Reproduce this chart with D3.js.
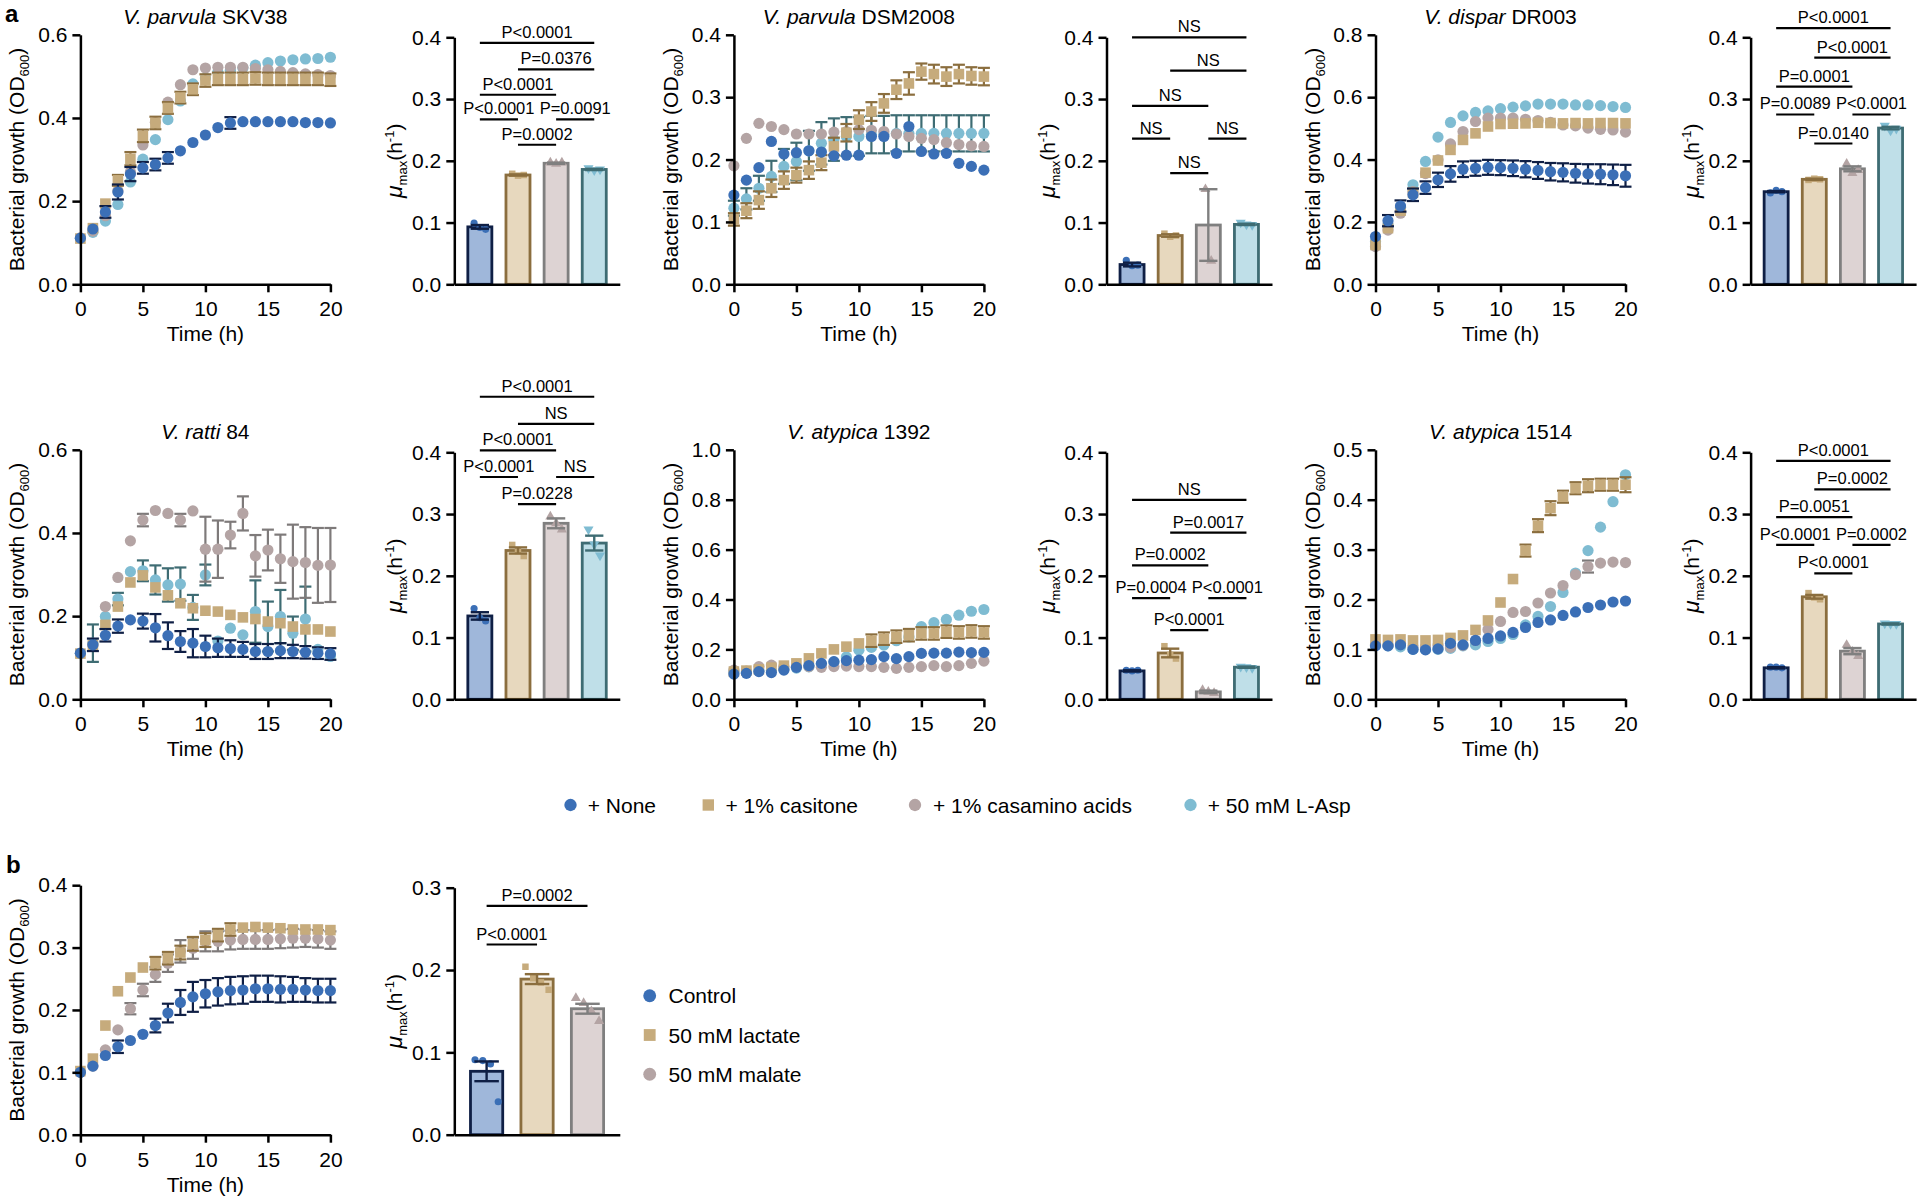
<!DOCTYPE html>
<html><head><meta charset="utf-8">
<script src="https://cdn.jsdelivr.net/npm/d3@7"></script>
<style>
body{margin:0;background:#fff;}
svg{display:block;}
</style></head><body>
<svg id="fig" width="1920" height="1202"></svg>
<script>
// ---------------- DATA ----------------
const hours=[0,1,2,3,4,5,6,7,8,9,10,11,12,13,14,15,16,17,18,19,20];
const xTicks=[0,5,10,15,20];
const conditions=["+ None","+ 1% casitone","+ 1% casamino acids","+ 50 mM L-Asp"];
const conditionsB=["Control","50 mM lactate","50 mM malate"];

const titleSKV38=["V. parvula"," SKV38"];
const titleDSM=["V. parvula"," DSM2008"];
const titleDR=["V. dispar"," DR003"];
const titleRatti=["V. ratti"," 84"];
const title1392=["V. atypica"," 1392"];
const title1514=["V. atypica"," 1514"];

const yTicksSKV38=[0,0.2,0.4,0.6];
const yTicksDSM=[0,0.1,0.2,0.3,0.4];
const yTicksDR=[0,0.2,0.4,0.6,0.8];
const yTicksRatti=[0,0.2,0.4,0.6];
const yTicks1392=[0,0.2,0.4,0.6,0.8,1.0];
const yTicks1514=[0,0.1,0.2,0.3,0.4,0.5];
const yTicksGrowthB=[0,0.1,0.2,0.3,0.4];
const yTicksMu=[0,0.1,0.2,0.3,0.4];
const yTicksMuB=[0,0.1,0.2,0.3];

// V. parvula SKV38
const skvNone=[0.111,0.133,0.174,0.222,0.265,0.280,0.288,0.304,0.321,0.341,0.359,0.377,0.388,0.391,0.391,0.391,0.391,0.391,0.389,0.389,0.388];
const skvNoneSem=[0.013,0.012,0.014,0.018,0.017,0.014,0.014,0.014,0.005,0.005,0.005,0.005,0.014,0.004,0.004,0.004,0.004,0.004,0.004,0.004,0.004];
const skvCas=[0.110,0.135,0.194,0.250,0.302,0.357,0.388,0.424,0.449,0.469,0.490,0.494,0.494,0.494,0.495,0.494,0.494,0.494,0.494,0.494,0.492];
const skvCasSem=[0.005,0.006,0.010,0.013,0.016,0.015,0.015,0.014,0.014,0.014,0.015,0.015,0.015,0.015,0.015,0.015,0.015,0.015,0.015,0.015,0.015];
const skvCam=[0.112,0.128,0.165,0.225,0.270,0.335,0.390,0.438,0.480,0.516,0.520,0.522,0.522,0.522,0.519,0.516,0.512,0.509,0.506,0.504,0.502];
const skvCamSem=[0.004,0.004,0.004,0.004,0.004,0.004,0.004,0.004,0.004,0.004,0.004,0.004,0.004,0.004,0.004,0.004,0.004,0.004,0.004,0.004,0.004];
const skvAsp=[0.110,0.125,0.152,0.192,0.246,0.301,0.348,0.396,0.441,0.482,0.496,0.510,0.515,0.520,0.527,0.533,0.537,0.540,0.542,0.543,0.546];
const skvAspSem=[0.004,0.004,0.004,0.004,0.004,0.004,0.004,0.004,0.004,0.004,0.004,0.004,0.004,0.004,0.004,0.004,0.004,0.004,0.004,0.004,0.004];

// V. parvula DSM2008
const dsmNone=[0.143,0.167,0.187,0.229,0.209,0.211,0.214,0.212,0.206,0.207,0.207,0.237,0.237,0.210,0.253,0.213,0.209,0.210,0.194,0.189,0.183];
const dsmNoneSem=[0.004,0.004,0.004,0.004,0.004,0.004,0.004,0.004,0.004,0.004,0.004,0.004,0.004,0.004,0.004,0.004,0.004,0.004,0.004,0.004,0.004];
const dsmCas=[0.104,0.118,0.135,0.154,0.167,0.175,0.183,0.195,0.221,0.243,0.264,0.277,0.290,0.312,0.322,0.341,0.337,0.333,0.337,0.334,0.333];
const dsmCasSem=[0.010,0.012,0.014,0.014,0.014,0.012,0.014,0.012,0.014,0.014,0.015,0.015,0.015,0.015,0.018,0.013,0.015,0.015,0.015,0.014,0.014];
const dsmCam=[0.190,0.234,0.258,0.253,0.248,0.241,0.241,0.241,0.244,0.245,0.248,0.247,0.245,0.241,0.237,0.234,0.232,0.227,0.224,0.222,0.221];
const dsmCamSem=[0.003,0.003,0.003,0.003,0.003,0.003,0.003,0.003,0.003,0.003,0.003,0.003,0.003,0.003,0.003,0.003,0.003,0.003,0.003,0.003,0.003];
const dsmAsp=[0.122,0.137,0.154,0.173,0.189,0.197,0.214,0.226,0.232,0.237,0.237,0.240,0.240,0.242,0.242,0.242,0.242,0.242,0.242,0.242,0.242];
const dsmAspSem=[0.012,0.017,0.020,0.025,0.028,0.030,0.032,0.034,0.034,0.031,0.031,0.030,0.030,0.029,0.029,0.029,0.029,0.029,0.029,0.029,0.029];

// V. dispar DR003
const drNone=[0.153,0.204,0.251,0.287,0.310,0.335,0.354,0.369,0.372,0.375,0.374,0.372,0.369,0.365,0.361,0.359,0.356,0.354,0.353,0.351,0.348];
const drNoneSem=[0.006,0.018,0.018,0.020,0.020,0.023,0.025,0.025,0.024,0.024,0.024,0.025,0.026,0.027,0.028,0.029,0.030,0.031,0.032,0.033,0.035];
const drCas=[0.126,0.180,0.236,0.294,0.358,0.397,0.431,0.463,0.484,0.506,0.514,0.515,0.516,0.518,0.517,0.516,0.517,0.516,0.517,0.517,0.516];
const drCasSem=[0.006,0.006,0.006,0.006,0.006,0.006,0.006,0.006,0.006,0.006,0.006,0.006,0.006,0.006,0.006,0.006,0.006,0.006,0.006,0.006,0.006];
const drCam=[0.121,0.174,0.228,0.297,0.355,0.399,0.450,0.490,0.522,0.533,0.533,0.533,0.529,0.525,0.519,0.511,0.508,0.501,0.497,0.495,0.488];
const drCamSem=[0.005,0.005,0.005,0.005,0.005,0.005,0.005,0.005,0.005,0.005,0.005,0.005,0.005,0.005,0.005,0.005,0.005,0.005,0.005,0.005,0.005];
const drAsp=[0.137,0.190,0.247,0.319,0.394,0.472,0.519,0.540,0.551,0.556,0.563,0.568,0.572,0.578,0.578,0.578,0.575,0.575,0.573,0.570,0.567];
const drAspSem=[0.005,0.005,0.005,0.005,0.005,0.005,0.005,0.005,0.005,0.005,0.005,0.005,0.005,0.005,0.005,0.005,0.005,0.005,0.005,0.005,0.005];

// V. ratti 84
const ratNone=[0.111,0.131,0.154,0.176,0.191,0.188,0.172,0.153,0.139,0.135,0.127,0.124,0.122,0.120,0.115,0.115,0.117,0.115,0.113,0.111,0.109];
const ratNoneSem=[0.012,0.015,0.015,0.016,0.012,0.018,0.033,0.032,0.025,0.034,0.026,0.022,0.020,0.018,0.018,0.018,0.018,0.016,0.015,0.014,0.014];
const ratCas=[0.110,0.130,0.179,0.223,0.281,0.298,0.269,0.250,0.231,0.219,0.213,0.211,0.203,0.197,0.193,0.187,0.183,0.175,0.168,0.168,0.163];
const ratCasSem=[0.004,0.004,0.005,0.006,0.008,0.010,0.006,0.005,0.005,0.005,0.004,0.004,0.004,0.004,0.004,0.004,0.004,0.004,0.004,0.004,0.004];
const ratCam=[0.110,0.130,0.223,0.293,0.381,0.431,0.454,0.447,0.431,0.453,0.361,0.361,0.395,0.447,0.345,0.359,0.338,0.331,0.329,0.322,0.323];
const ratCamSem=[0.004,0.004,0.005,0.010,0.005,0.015,0.006,0.012,0.015,0.010,0.078,0.069,0.032,0.041,0.050,0.049,0.058,0.089,0.085,0.090,0.089];
const ratAsp=[0.110,0.135,0.199,0.241,0.307,0.309,0.287,0.275,0.277,0.221,0.299,0.140,0.171,0.155,0.211,0.175,0.199,0.159,0.193,0.120,0.103];
const ratAspSem=[0.004,0.045,0.008,0.015,0.010,0.025,0.035,0.040,0.040,0.030,0.025,0.010,0.010,0.010,0.075,0.060,0.064,0.040,0.078,0.010,0.005];

// V. atypica 1392
const a92None=[0.101,0.104,0.111,0.107,0.117,0.128,0.135,0.144,0.151,0.155,0.157,0.159,0.171,0.163,0.171,0.184,0.185,0.185,0.189,0.187,0.188];
const a92NoneSem=[0.003,0.003,0.003,0.003,0.003,0.003,0.003,0.003,0.003,0.003,0.003,0.003,0.003,0.003,0.003,0.003,0.003,0.003,0.003,0.003,0.003];
const a92Cas=[0.111,0.115,0.120,0.127,0.135,0.144,0.164,0.184,0.200,0.211,0.224,0.235,0.243,0.251,0.257,0.264,0.264,0.271,0.268,0.272,0.268];
const a92CasSem=[0.004,0.004,0.004,0.004,0.004,0.004,0.005,0.005,0.005,0.006,0.008,0.025,0.025,0.025,0.025,0.025,0.025,0.025,0.025,0.025,0.025];
const a92Cam=[0.117,0.113,0.131,0.137,0.131,0.131,0.131,0.128,0.131,0.133,0.131,0.131,0.128,0.124,0.128,0.131,0.135,0.131,0.135,0.144,0.153];
const a92CamSem=[0.003,0.003,0.003,0.003,0.003,0.003,0.003,0.003,0.003,0.003,0.003,0.003,0.003,0.003,0.003,0.003,0.003,0.003,0.003,0.003,0.003];
const a92Asp=[0.110,0.108,0.115,0.115,0.120,0.125,0.130,0.140,0.150,0.170,0.197,0.208,0.217,0.235,0.250,0.291,0.307,0.320,0.337,0.353,0.360];
const a92AspSem=[0.003,0.003,0.003,0.003,0.003,0.003,0.003,0.003,0.003,0.003,0.003,0.003,0.003,0.003,0.003,0.003,0.003,0.003,0.003,0.003,0.003];

// V. atypica 1514
const a14None=[0.107,0.107,0.109,0.100,0.099,0.101,0.112,0.109,0.118,0.122,0.127,0.134,0.144,0.154,0.159,0.168,0.175,0.184,0.189,0.195,0.197];
const a14NoneSem=[0.003,0.003,0.003,0.003,0.003,0.003,0.003,0.003,0.003,0.003,0.003,0.003,0.003,0.003,0.003,0.003,0.003,0.003,0.003,0.003,0.003];
const a14Cas=[0.120,0.119,0.120,0.118,0.118,0.119,0.123,0.128,0.139,0.158,0.194,0.241,0.298,0.348,0.383,0.406,0.423,0.428,0.430,0.430,0.430];
const a14CasSem=[0.003,0.003,0.003,0.003,0.003,0.003,0.003,0.004,0.004,0.004,0.005,0.008,0.012,0.013,0.014,0.012,0.012,0.013,0.012,0.012,0.015];
const a14Cam=[0.110,0.108,0.112,0.105,0.105,0.108,0.104,0.108,0.118,0.140,0.156,0.174,0.176,0.193,0.213,0.228,0.250,0.266,0.273,0.275,0.274];
const a14CamSem=[0.003,0.003,0.003,0.003,0.003,0.003,0.003,0.003,0.003,0.003,0.003,0.003,0.003,0.003,0.003,0.003,0.003,0.012,0.003,0.003,0.003];
const a14Asp=[0.108,0.107,0.105,0.100,0.100,0.100,0.102,0.107,0.109,0.116,0.122,0.130,0.149,0.166,0.186,0.214,0.253,0.298,0.345,0.396,0.450];
const a14AspSem=[0.003,0.003,0.003,0.003,0.003,0.003,0.003,0.003,0.003,0.003,0.003,0.003,0.003,0.003,0.003,0.003,0.003,0.003,0.003,0.003,0.003];

// panel b growth
const bControl=[0.100,0.110,0.127,0.141,0.151,0.161,0.175,0.195,0.212,0.221,0.226,0.229,0.231,0.232,0.234,0.234,0.233,0.233,0.232,0.231,0.231];
const bControlSem=[0.003,0.003,0.004,0.010,0.004,0.004,0.011,0.015,0.020,0.024,0.022,0.022,0.022,0.022,0.021,0.021,0.021,0.020,0.019,0.019,0.019];
const bLactate=[0.102,0.122,0.175,0.230,0.252,0.268,0.275,0.283,0.292,0.306,0.312,0.320,0.329,0.332,0.333,0.332,0.331,0.329,0.329,0.329,0.328];
const bLactateSem=[0.002,0.003,0.003,0.003,0.003,0.004,0.010,0.010,0.011,0.011,0.011,0.010,0.010,0.004,0.004,0.004,0.004,0.004,0.004,0.004,0.004];
const bMalate=[0.100,0.110,0.136,0.168,0.202,0.232,0.257,0.275,0.294,0.299,0.310,0.310,0.312,0.313,0.313,0.313,0.314,0.315,0.315,0.314,0.312];
const bMalateSem=[0.002,0.002,0.003,0.004,0.009,0.010,0.012,0.014,0.018,0.017,0.016,0.016,0.015,0.015,0.015,0.015,0.015,0.015,0.014,0.014,0.014];

// mu max bar data (mean, SEM, replicate points)
const muSKV38=[0.093,0.177,0.196,0.186];
const muSKV38Sem=[0.003,0.001,0.001,0.001];
const muSKV38Pts=[[0.099,0.092,0.089],[0.179,0.176,0.177],[0.197,0.195,0.197],[0.188,0.185,0.186]];
const muDSM=[0.032,0.079,0.096,0.097];
const muDSMSem=[0.003,0.002,0.058,0.001];
const muDSMPts=[[0.039,0.030,0.031],[0.082,0.077,0.079],[0.154,0.038],[0.100,0.097,0.096]];
const muDR=[0.150,0.170,0.187,0.253];
const muDRSem=[0.001,0.001,0.004,0.002];
const muDRPts=[[0.148,0.152,0.150],[0.169,0.171,0.170],[0.195,0.180,0.185],[0.257,0.249,0.252]];
const muRatti=[0.135,0.241,0.285,0.253];
const muRattiSem=[0.006,0.005,0.008,0.012];
const muRattiPts=[[0.147,0.132,0.127],[0.250,0.240,0.232],[0.296,0.285,0.275],[0.275,0.251,0.233]];
const mu1392=[0.046,0.075,0.012,0.052];
const mu1392Sem=[0.001,0.007,0.002,0.001];
const mu1392Pts=[[0.047,0.046,0.047],[0.086,0.072,0.066],[0.015,0.012,0.010],[0.053,0.052,0.051]];
const mu1514=[0.051,0.166,0.078,0.122];
const mu1514Sem=[0.001,0.003,0.005,0.001];
const mu1514Pts=[[0.052,0.052,0.051],[0.172,0.165,0.162],[0.088,0.077,0.070],[0.123,0.122,0.122]];
const muB=[0.077,0.189,0.153];
const muBSem=[0.012,0.006,0.006];
const muBPts=[[0.091,0.090,0.086,0.040],[0.204,0.190,0.185,0.176],[0.166,0.160,0.150,0.138]];

// significance brackets: [from, to, level (h^-1), label]
const sigSKV38=[[0,3,0.391,"P<0.0001"],[1,3,0.348,"P=0.0376"],[0,2,0.307,"P<0.0001"],[0,1,0.267,"P<0.0001"],[2,3,0.267,"P=0.0091"],[1,2,0.226,"P=0.0002"]];
const sigDSM=[[0,3,0.400,"NS"],[1,3,0.346,"NS"],[0,2,0.289,"NS"],[0,1,0.236,"NS"],[2,3,0.236,"NS"],[1,2,0.180,"NS"]];
const sigDR=[[0,3,0.415,"P<0.0001"],[1,3,0.367,"P<0.0001"],[0,2,0.320,"P=0.0001"],[0,1,0.275,"P=0.0089"],[2,3,0.275,"P<0.0001"],[1,2,0.228,"P=0.0140"]];
const sigRatti=[[0,3,0.490,"P<0.0001"],[1,3,0.446,"NS"],[0,2,0.403,"P<0.0001"],[0,1,0.360,"P<0.0001"],[2,3,0.360,"NS"],[1,2,0.316,"P=0.0228"]];
const sig1392=[[0,3,0.323,"NS"],[1,3,0.270,"P=0.0017"],[0,2,0.217,"P=0.0002"],[0,1,0.164,"P=0.0004"],[2,3,0.164,"P<0.0001"],[1,2,0.112,"P<0.0001"]];
const sig1514=[[0,3,0.386,"P<0.0001"],[1,3,0.340,"P=0.0002"],[0,2,0.295,"P=0.0051"],[0,1,0.250,"P<0.0001"],[2,3,0.250,"P=0.0002"],[1,2,0.204,"P<0.0001"]];
const sigB=[[0,2,0.278,"P=0.0002"],[0,1,0.231,"P<0.0001"]];

// ---------------- STYLE / LAYOUT ----------------
const FONT="'Liberation Sans', Arial, Helvetica, sans-serif";
const ST={
  none:{marker:"#3b6fb6",err:"#0f1f45",fill:"#9fb7da",stroke:"#0f1f45",shape:"circle",pt:"circle"},
  cas:{marker:"#c6ab7c",err:"#8b6e3e",fill:"#e7d8be",stroke:"#8b6e3e",shape:"square",pt:"square"},
  cam:{marker:"#b4a4a4",err:"#7e7a7a",fill:"#ddd3d3",stroke:"#7f7f7f",shape:"circle",pt:"triangle"},
  asp:{marker:"#7fbcd2",err:"#3e6c73",fill:"#bfdfe8",stroke:"#3e6c73",shape:"circle",pt:"triangleDown"}
};
const GX=[80.4,733.9,1375.5], BX=[454.3,1106.5,1750.6];
const GW=250, GH=249.5, BW=165.5, BH=247;
const BASE=[284.3,699.3,1134.7];
const MR=5.6;          // growth marker radius
const SQ=10.6;         // growth square side
const CAP=6;           // growth error-bar cap half width

const svg=d3.select("#fig");
svg.append("rect").attr("width",1920).attr("height",1202).attr("fill","#fff");

function symPath(shape,size){
  const t={circle:d3.symbolCircle,square:d3.symbolSquare,triangle:d3.symbolTriangle,triangleDown:d3.symbolTriangle}[shape];
  return d3.symbol().type(t).size(size)();
}
function styleAxis(g){
  g.attr("font-family",FONT).attr("font-size",21);
  g.select(".domain").attr("stroke","#000").attr("stroke-width",2.5);
  g.selectAll(".tick line").attr("stroke","#000").attr("stroke-width",2.5);
  g.selectAll(".tick text").attr("fill","#000");
}

function growthPanel(o){
  const x=d3.scaleLinear().domain([0,20]).range([o.x0,o.x0+GW]);
  const yMax=o.ticks[o.ticks.length-1];
  const y=d3.scaleLinear().domain([0,yMax]).range([o.base,o.base-GH]);
  const g=svg.append("g");
  o.series.slice().reverse().forEach(s=>{
    const st=ST[s.key];
    const half=st.shape==="square"?SQ/2:MR;
    const eg=g.append("g").attr("stroke",st.err).attr("stroke-width",2.2).attr("fill","none");
    hours.forEach((t,i)=>{
      const m=s.mean[i], e=s.sem[i];
      const xx=x(t), y1=y(m-e), y2=y(m+e);
      if(y(m)-y2 <= half) return;   // error bar hidden behind the symbol
      eg.append("line").attr("x1",xx).attr("x2",xx).attr("y1",y1).attr("y2",y2);
      eg.append("line").attr("x1",xx-CAP).attr("x2",xx+CAP).attr("y1",y1).attr("y2",y1);
      eg.append("line").attr("x1",xx-CAP).attr("x2",xx+CAP).attr("y1",y2).attr("y2",y2);
    });
    g.append("g").selectAll("path").data(hours).join("path")
      .attr("transform",(t,i)=>`translate(${x(t)},${y(s.mean[i])})`)
      .attr("d",symPath(st.shape, st.shape==="square"?SQ*SQ:Math.PI*MR*MR))
      .attr("fill",st.marker);
  });
  const ax=svg.append("g").attr("transform",`translate(0,${o.base})`)
    .call(d3.axisBottom(x).tickValues(xTicks).tickSize(8).tickPadding(9).tickSizeOuter(0));
  styleAxis(ax);
  const ay=svg.append("g").attr("transform",`translate(${o.x0},0)`)
    .call(d3.axisLeft(y).tickValues(o.ticks).tickFormat(d3.format(".1f")).tickSize(8).tickPadding(5).tickSizeOuter(0));
  styleAxis(ay);
  const cx=o.x0+GW/2, top=o.base-GH;
  if(o.title){
    const t=svg.append("text").attr("x",cx).attr("y",top-10.5).attr("text-anchor","middle")
      .attr("font-family",FONT).attr("font-size",21);
    t.append("tspan").attr("font-style","italic").text(o.title[0]);
    t.append("tspan").text(o.title[1]);
  }
  svg.append("text").attr("x",cx).attr("y",o.base+57).attr("text-anchor","middle")
    .attr("font-family",FONT).attr("font-size",21).text("Time (h)");
  const yl=svg.append("text").attr("transform",`translate(${o.x0-56},${o.base-GH/2}) rotate(-90)`)
    .attr("text-anchor","middle").attr("font-family",FONT).attr("font-size",21);
  yl.append("tspan").text("Bacterial growth (OD");
  yl.append("tspan").attr("font-size",13).attr("dy",5).text("600");
  yl.append("tspan").attr("dy",-5).text(")");
}

function barPanel(o){
  const x=d3.scaleBand().domain(o.cats).range([o.x0,o.x0+BW]).paddingInner(o.pi).paddingOuter(o.po);
  const yMax=o.ticks[o.ticks.length-1];
  const y=d3.scaleLinear().domain([0,yMax]).range([o.base,o.base-BH]);
  const bw=x.bandwidth();
  const g=svg.append("g");
  o.cats.forEach((c,i)=>{
    const st=ST[o.keys[i]];
    const xc=x(c)+bw/2;
    g.append("rect").attr("x",x(c)).attr("width",bw).attr("y",y(o.mean[i])).attr("height",o.base-y(o.mean[i]))
      .attr("fill",st.fill).attr("stroke",st.stroke).attr("stroke-width",2.8);
    const pts=o.pts[i];
    pts.forEach((v,j)=>{
      const dx=(j-(pts.length-1)/2)*bw*0.24;
      g.append("path").attr("d",symPath(st.pt, st.pt==="circle"?40:st.pt==="square"?42:44))
        .attr("transform",`translate(${xc+dx},${y(v)})`+(st.pt==="triangleDown"?" rotate(180)":""))
        .attr("fill",st.marker);
    });
    const e=o.sem[i], m=o.mean[i], cw=bw*0.38;
    const eg=g.append("g").attr("stroke",st.stroke).attr("stroke-width",2.4);
    eg.append("line").attr("x1",xc).attr("x2",xc).attr("y1",y(m-e)).attr("y2",y(m+e));
    eg.append("line").attr("x1",xc-cw).attr("x2",xc+cw).attr("y1",y(m-e)).attr("y2",y(m-e));
    eg.append("line").attr("x1",xc-cw).attr("x2",xc+cw).attr("y1",y(m+e)).attr("y2",y(m+e));
  });
  const ax=svg.append("g").attr("transform",`translate(0,${o.base})`)
    .call(d3.axisBottom(x).tickValues([]).tickSizeOuter(0));
  styleAxis(ax);
  const ay=svg.append("g").attr("transform",`translate(${o.x0},0)`)
    .call(d3.axisLeft(y).tickValues(o.ticks).tickFormat(d3.format(".1f")).tickSize(8).tickPadding(5).tickSizeOuter(0));
  styleAxis(ay);
  // brackets
  o.sig.forEach(s=>{
    const x1=x(o.cats[s[0]])+bw/2, x2=x(o.cats[s[1]])+bw/2, yy=y(s[2]);
    svg.append("line").attr("x1",x1).attr("x2",x2).attr("y1",yy).attr("y2",yy)
      .attr("stroke","#000").attr("stroke-width",2.2);
    svg.append("text").attr("x",(x1+x2)/2).attr("y",yy-5).attr("text-anchor","middle")
      .attr("font-family",FONT).attr("font-size",16.5).text(s[3]);
  });
  const yl=svg.append("text").attr("transform",`translate(${o.x0-52},${o.base-BH/2}) rotate(-90)`)
    .attr("text-anchor","middle").attr("font-family",FONT).attr("font-size",21);
  yl.append("tspan").attr("font-style","italic").attr("font-size",23).text("μ");
  yl.append("tspan").attr("font-size",13).attr("dy",5).text("max");
  yl.append("tspan").attr("dy",-5).text("(h");
  yl.append("tspan").attr("font-size",13).attr("dy",-8).text("-1");
  yl.append("tspan").attr("dy",8).text(")");
}

const K4=["none","cas","cam","asp"];
function ser(a,b,c,d,ea,eb,ec,ed){
  return [{key:"none",mean:a,sem:ea},{key:"cas",mean:b,sem:eb},{key:"cam",mean:c,sem:ec},{key:"asp",mean:d,sem:ed}];
}

growthPanel({x0:GX[0],base:BASE[0],ticks:yTicksSKV38,title:titleSKV38,series:ser(skvNone,skvCas,skvCam,skvAsp,skvNoneSem,skvCasSem,skvCamSem,skvAspSem)});
growthPanel({x0:GX[1],base:BASE[0],ticks:yTicksDSM,title:titleDSM,series:ser(dsmNone,dsmCas,dsmCam,dsmAsp,dsmNoneSem,dsmCasSem,dsmCamSem,dsmAspSem)});
growthPanel({x0:GX[2],base:BASE[0],ticks:yTicksDR,title:titleDR,series:ser(drNone,drCas,drCam,drAsp,drNoneSem,drCasSem,drCamSem,drAspSem)});
growthPanel({x0:GX[0],base:BASE[1],ticks:yTicksRatti,title:titleRatti,series:ser(ratNone,ratCas,ratCam,ratAsp,ratNoneSem,ratCasSem,ratCamSem,ratAspSem)});
growthPanel({x0:GX[1],base:BASE[1],ticks:yTicks1392,title:title1392,series:ser(a92None,a92Cas,a92Cam,a92Asp,a92NoneSem,a92CasSem,a92CamSem,a92AspSem)});
growthPanel({x0:GX[2],base:BASE[1],ticks:yTicks1514,title:title1514,series:ser(a14None,a14Cas,a14Cam,a14Asp,a14NoneSem,a14CasSem,a14CamSem,a14AspSem)});
growthPanel({x0:GX[0],base:BASE[2],ticks:yTicksGrowthB,title:null,series:[
  {key:"none",mean:bControl,sem:bControlSem},{key:"cas",mean:bLactate,sem:bLactateSem},{key:"cam",mean:bMalate,sem:bMalateSem}]});

const bar4={pi:0.37,po:0.355,cats:conditions,keys:K4,ticks:yTicksMu};
barPanel(Object.assign({},bar4,{x0:BX[0],base:BASE[0],mean:muSKV38,sem:muSKV38Sem,pts:muSKV38Pts,sig:sigSKV38}));
barPanel(Object.assign({},bar4,{x0:BX[1],base:BASE[0],mean:muDSM,sem:muDSMSem,pts:muDSMPts,sig:sigDSM}));
barPanel(Object.assign({},bar4,{x0:BX[2],base:BASE[0],mean:muDR,sem:muDRSem,pts:muDRPts,sig:sigDR}));
barPanel(Object.assign({},bar4,{x0:BX[0],base:BASE[1],mean:muRatti,sem:muRattiSem,pts:muRattiPts,sig:sigRatti}));
barPanel(Object.assign({},bar4,{x0:BX[1],base:BASE[1],mean:mu1392,sem:mu1392Sem,pts:mu1392Pts,sig:sig1392}));
barPanel(Object.assign({},bar4,{x0:BX[2],base:BASE[1],mean:mu1514,sem:mu1514Sem,pts:mu1514Pts,sig:sig1514}));
barPanel({pi:0.361,po:0.321,cats:conditionsB,keys:["none","cas","cam"],ticks:yTicksMuB,
  x0:BX[0],base:BASE[2],mean:muB,sem:muBSem,pts:muBPts,sig:sigB});

// legend a
const legA=[{x:570.5,tx:587.7},{x:708.3,tx:725.5},{x:915,tx:933},{x:1190.5,tx:1207.7}];
conditions.forEach((c,i)=>{
  const st=ST[K4[i]];
  svg.append("path").attr("d",symPath(st.shape, st.shape==="square"?130:120))
    .attr("transform",`translate(${legA[i].x},805)`).attr("fill",st.marker);
  svg.append("text").attr("x",legA[i].tx).attr("y",812.5).attr("font-family",FONT).attr("font-size",21).text(c);
});
// legend b
const legBY=[995.7,1035,1074.3];
conditionsB.forEach((c,i)=>{
  const st=ST[K4[i]];
  svg.append("path").attr("d",symPath(st.shape, st.shape==="square"?140:130))
    .attr("transform",`translate(649.7,${legBY[i]})`).attr("fill",st.marker);
  svg.append("text").attr("x",668.5).attr("y",legBY[i]+7.5).attr("font-family",FONT).attr("font-size",21).text(c);
});
// panel letters
svg.append("text").attr("x",5).attr("y",22).attr("font-family",FONT).attr("font-weight","bold").attr("font-size",24).text("a");
svg.append("text").attr("x",6).attr("y",873).attr("font-family",FONT).attr("font-weight","bold").attr("font-size",24).text("b");
</script>
</body></html>
